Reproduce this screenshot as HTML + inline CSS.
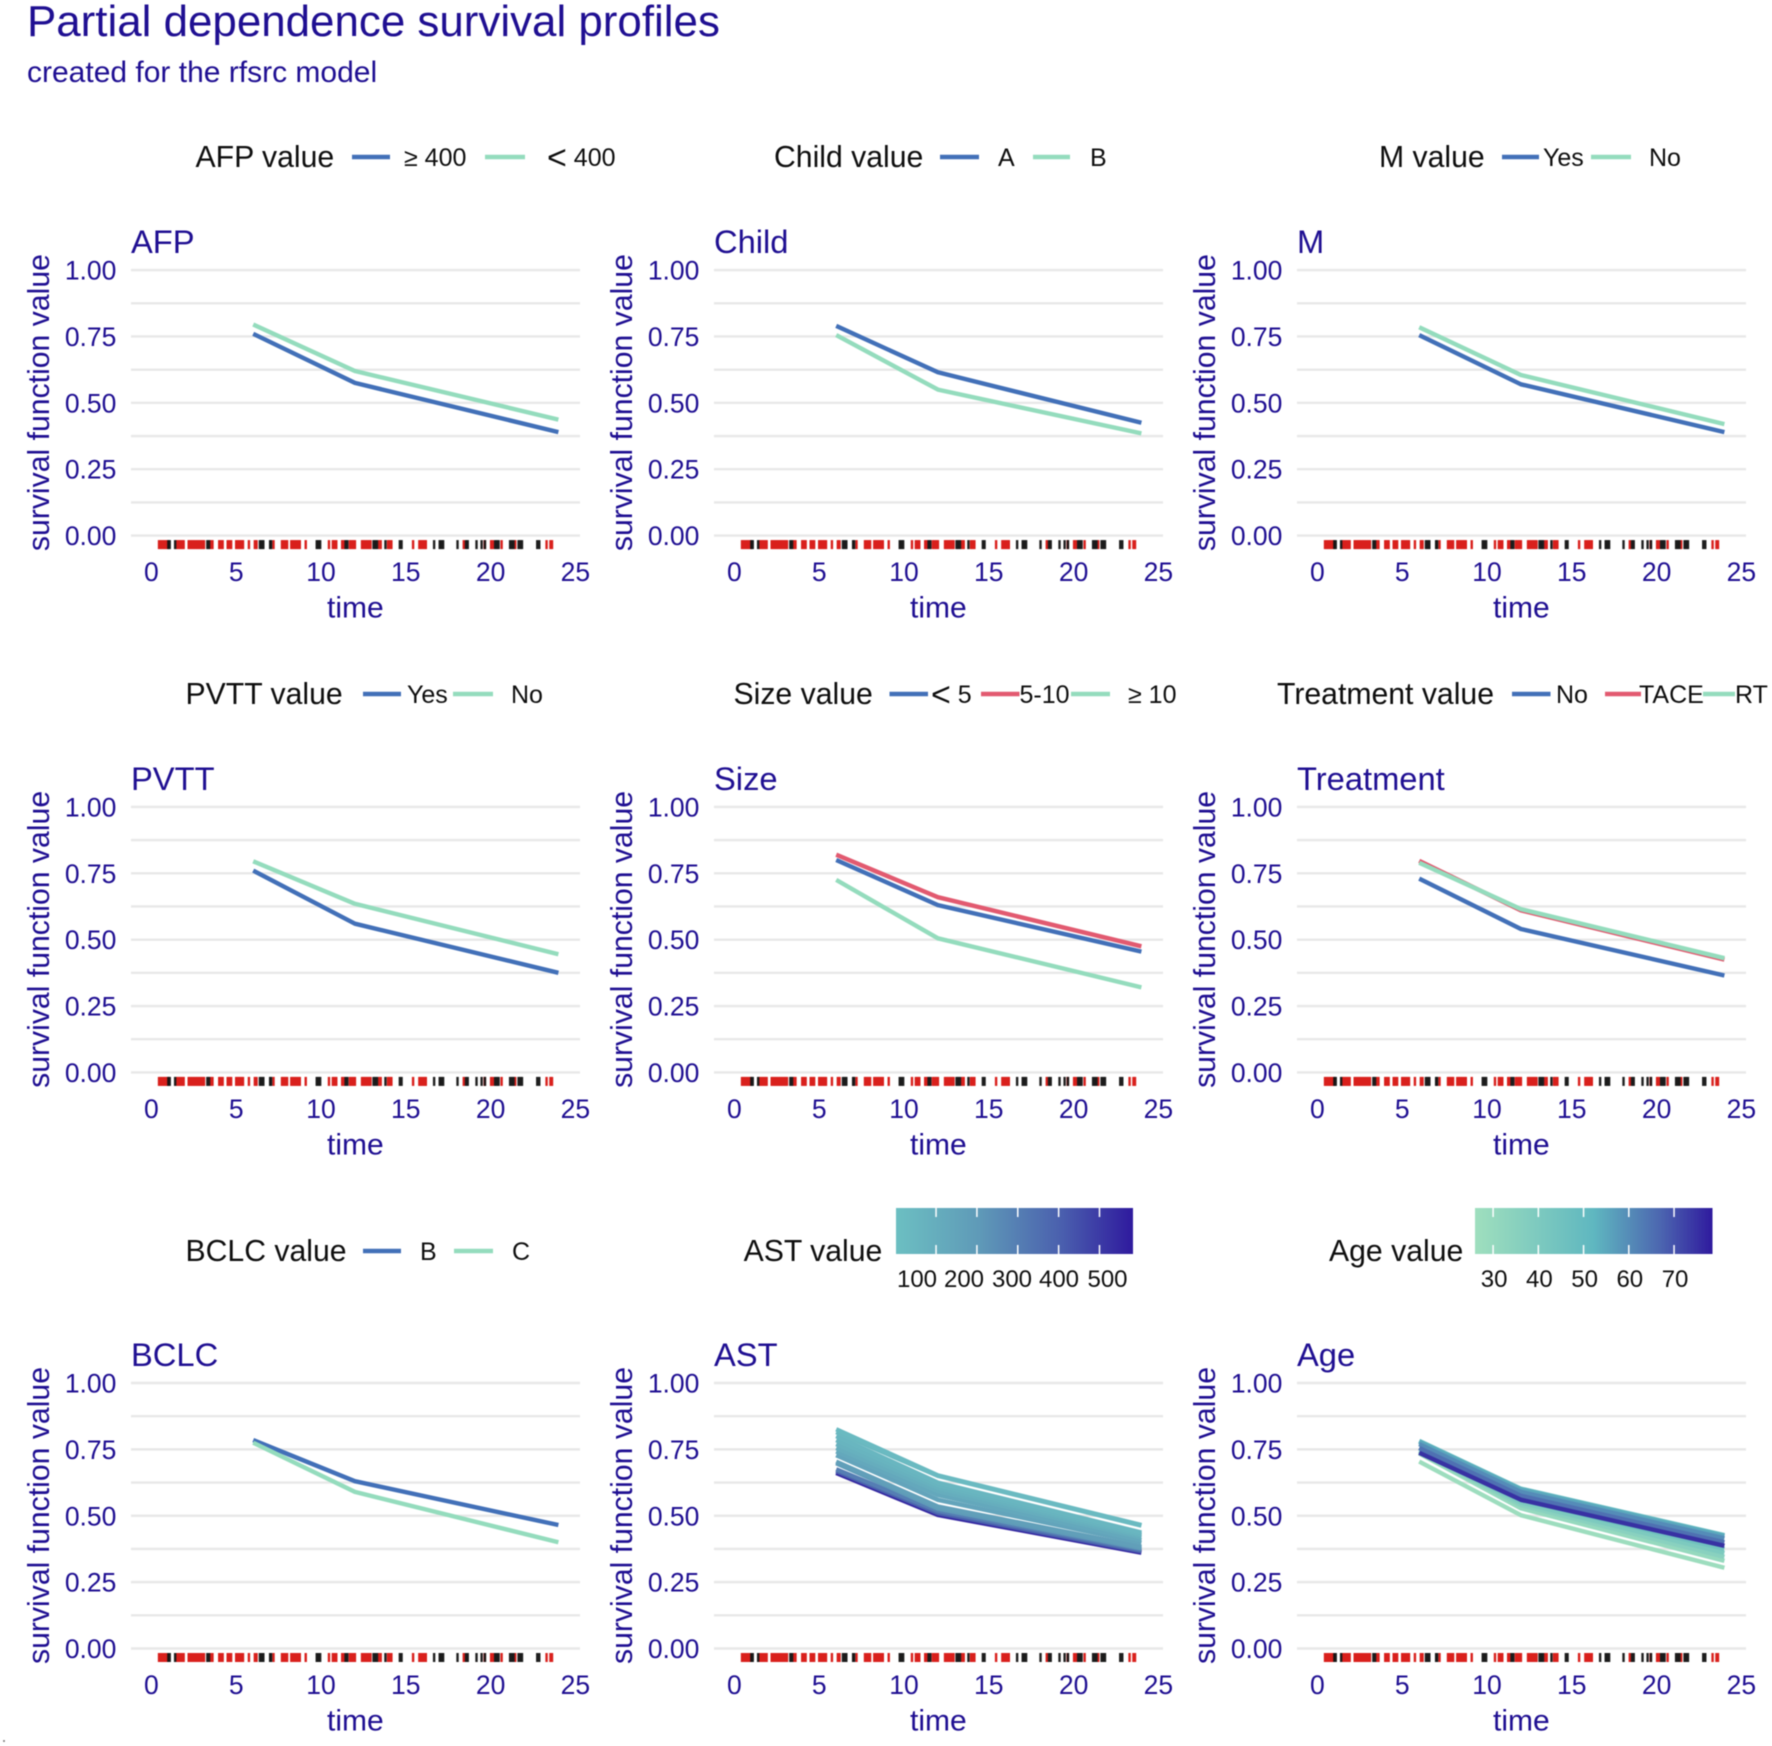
<!DOCTYPE html>
<html lang="en">
<head>
<meta charset="utf-8">
<title>Partial dependence survival profiles</title>
<style>
html,body{margin:0;padding:0;background:#fff;}
svg{display:block;font-family:"Liberation Sans",Arial,sans-serif;filter:blur(0.45px);}
</style>
</head>
<body>
<svg id="chart" xmlns="http://www.w3.org/2000/svg" width="1772" height="1746" viewBox="0 0 1772 1746">
<rect x="0" y="0" width="1772" height="1746" fill="#ffffff"/>
<text x="27" y="36" font-size="43.9" fill="#1f0f92">Partial dependence survival profiles</text>
<text x="27" y="82" font-size="30" fill="#1f0f92">created for the rfsrc model</text>
<circle cx="4" cy="1741" r="1" fill="#777777"/>
<defs id="defs"></defs>
</svg>
<script>
// ---- shared axis data ----
const timePoints = [6, 12, 24];
const xTickValues = [0, 5, 10, 15, 20, 25];
const yGridValues = [0, 0.125, 0.25, 0.375, 0.5, 0.625, 0.75, 0.875, 1];
const yTickValues = [0, 0.25, 0.5, 0.75, 1];
const yTickLabels = ['0.00', '0.25', '0.50', '0.75', '1.00'];

// ---- rug data (months) ----
const rugRedTimes = [0.45,0.55,0.65,0.75,0.85,0.95,1.5,1.6,1.7,1.8,1.9,2.2,2.3,2.4,2.5,2.6,2.7,2.8,2.9,3.0,3.1,3.5,3.6,4.0,4.1,4.2,4.5,4.6,4.7,5.0,5.1,5.2,5.3,5.4,5.75,6.1,6.2,7.2,7.7,7.8,7.9,8.0,8.25,8.35,8.45,8.55,8.65,8.75,9.1,10.47,10.7,10.8,10.9,11.25,11.35,11.7,11.8,11.9,12.0,12.42,12.52,12.62,12.72,12.82,12.92,13.42,13.52,13.95,14.05,14.15,15.43,15.8,15.9,16.0,16.1,16.18,18.42,19.65,20.03,20.13,20.65,21.45];
const rugBlackTimes = [1.0,1.08,1.4,3.3,3.4,6.4,6.5,6.6,7.0,7.06,9.75,9.85,9.95,11.45,11.55,13.1,13.2,13.3,13.8,14.65,14.75,16.67,17.0,17.1,17.2,18.05,18.55,18.65,19.17,19.47,19.67,20.27,20.37,20.47,21.15,21.25,21.35,21.65,21.75,21.85,22.75,22.87];
const rugRedExtra = [23.3, 23.53, 23.62];

// ---- categorical panels ----
const afpLevels = ['≥ 400', '< 400'];
const afpHigh = [0.76, 0.575, 0.39];
const afpLow = [0.795, 0.62, 0.437];

const childLevels = ['A', 'B'];
const childA = [0.79, 0.615, 0.425];
const childB = [0.755, 0.55, 0.385];

const mLevels = ['Yes', 'No'];
const mYes = [0.755, 0.57, 0.39];
const mNo = [0.785, 0.605, 0.42];

const pvttLevels = ['Yes', 'No'];
const pvttYes = [0.76, 0.56, 0.375];
const pvttNo = [0.795, 0.635, 0.445];

const sizeLevels = ['< 5', '5-10', '≥ 10'];
const sizeSmall = [0.80, 0.63, 0.455];
const sizeMid = [0.82, 0.66, 0.475];
const sizeLarge = [0.725, 0.505, 0.32];

const treatmentLevels = ['No', 'TACE', 'RT'];
const treatmentNo = [0.73, 0.54, 0.365];
const treatmentTace = [0.797, 0.61, 0.425];
const treatmentRt = [0.79, 0.615, 0.43];

const bclcLevels = ['B', 'C'];
const bclcB = [0.785, 0.63, 0.465];
const bclcC = [0.775, 0.59, 0.40];

// ---- continuous panels ----
const astValues = [30, 40, 50, 60, 80, 100, 130, 150, 180, 200, 300, 400, 550];
const astAt6 = [0.826, 0.815, 0.80, 0.785, 0.77, 0.755, 0.742, 0.728, 0.704, 0.698, 0.675, 0.668, 0.661];
const astAt12 = [0.652, 0.650, 0.625, 0.615, 0.605, 0.593, 0.578, 0.560, 0.535, 0.527, 0.518, 0.510, 0.503];
const astAt24 = [0.465, 0.463, 0.437, 0.430, 0.425, 0.418, 0.408, 0.398, 0.383, 0.377, 0.372, 0.366, 0.361];
const astTickValues = [100, 200, 300, 400, 500];
const astTickLabels = ['100', '200', '300', '400', '500'];

const ageValues = [27, 30, 35, 40, 45, 50, 55, 60, 65, 75];
const ageAt6 = [0.704, 0.735, 0.74, 0.745, 0.755, 0.782, 0.778, 0.77, 0.755, 0.737];
const ageAt12 = [0.502, 0.528, 0.54, 0.55, 0.56, 0.602, 0.598, 0.59, 0.575, 0.56];
const ageAt24 = [0.304, 0.33, 0.345, 0.36, 0.375, 0.427, 0.423, 0.415, 0.40, 0.387];
const ageTickValues = [30, 40, 50, 60, 70];
const ageTickLabels = ['30', '40', '50', '60', '70'];

// ---- layout and style (not data) ----
const BLUE = '#4270b8', MINT = '#94dcbd', RED = '#e25a70', INK = '#1f0f92', BLACK = '#0e0e0e', GRID = '#e8e8e8';
const LINE_WIDTH = 4.4;
const colX0 = [151.4, 734.4, 1317.4];
const rowY0 = [535.6, 1072.4, 1648.5];
const X_UNIT = 16.96, Y_UNIT = 265.5;
const astStops = [[0, '#6cbfc2'], [0.35, '#5f9ab8'], [0.7, '#4a5fae'], [1, '#2f1a9e']];
const ageStops = [[0, '#9fdfbe'], [0.5, '#5fb7c0'], [0.78, '#4c66b0'], [1, '#2f1a9e']];
const astDomain = [2, 582], ageDomain = [26, 78.5];

const svg = document.getElementById('chart');
const defs = document.getElementById('defs');
const SVG_NS = 'http://www.w3.org/2000/svg';

function xScale(t, col) { return colX0[col] + t * X_UNIT; }
function yScale(v, row) { return rowY0[row] - v * Y_UNIT; }

function make(parent, tag, attrs) {
  const el = document.createElementNS(SVG_NS, tag);
  Object.keys(attrs).forEach(function (k) { el.setAttribute(k, attrs[k]); });
  parent.appendChild(el);
  return el;
}
function addText(parent, str, x, y, size, fill, anchor, name) {
  const el = make(parent, 'text', { x: x, y: y, 'font-size': size, fill: fill, 'text-anchor': anchor });
  el.textContent = str;
  
  
  return el;
}
function hexToRgb(h) { return [parseInt(h.slice(1, 3), 16), parseInt(h.slice(3, 5), 16), parseInt(h.slice(5, 7), 16)]; }
function colorAt(f, stops) {
  f = Math.max(0, Math.min(1, f));
  for (let i = 1; i < stops.length; i++) {
    if (f <= stops[i][0]) {
      const a = stops[i - 1], b = stops[i];
      const u = (f - a[0]) / (b[0] - a[0]);
      const ca = hexToRgb(a[1]), cb = hexToRgb(b[1]);
      return 'rgb(' + ca.map(function (c, j) { return Math.round(c + (cb[j] - c) * u); }).join(',') + ')';
    }
  }
  return stops[stops.length - 1][1];
}

function drawAxes(g, col, row, title) {
  const left = colX0[col] - 20.4, right = colX0[col] + 428.6;
  yGridValues.forEach(function (v) {
    const line = make(g, 'line', { x1: left, x2: right, y1: yScale(v, row), y2: yScale(v, row), stroke: GRID, 'stroke-width': 2.4 });
    
    
  });
  yTickValues.forEach(function (v, i) {
    addText(g, yTickLabels[i], colX0[col] - 35, yScale(v, row) + 9.5, 26.5, INK, 'end', 'y-tick-label');
  });
  xTickValues.forEach(function (t) {
    addText(g, String(t), xScale(t, col), rowY0[row] + 45.5, 26.5, INK, 'middle', 'x-tick-label');
  });
  addText(g, 'time', colX0[col] + 204, rowY0[row] + 82, 30, INK, 'middle', 'x-axis-title');
  const cy = rowY0[row] - 133, cx = colX0[col] - 102.5;
  const yt = addText(g, 'survival function value', cx, cy, 30.2, INK, 'middle', 'y-axis-title');
  yt.setAttribute('transform', 'rotate(-90 ' + cx + ' ' + cy + ')');
  addText(g, title, left, rowY0[row] - 265.5 - 17, 32.7, INK, 'start', 'facet-title');
}

function drawRug(g, col, row) {
  const top = rowY0[row] + 4.5;
  rugRedTimes.concat(rugRedExtra).forEach(function (t) {
    const m = make(g, 'rect', { x: xScale(t, col) - 1.2, y: top, width: 2.4, height: 9, fill: '#d9201c' });
    
    
  });
  rugBlackTimes.forEach(function (t) {
    const m = make(g, 'rect', { x: xScale(t, col) - 1.2, y: top, width: 2.4, height: 9, fill: '#141414', opacity: 0.95 });
    
    
  });
}

function drawCurve(g, col, row, values, color, width, name) {
  const pts = values.map(function (v, i) { return xScale(timePoints[i], col).toFixed(1) + ',' + yScale(v, row).toFixed(1); }).join(' ');
  const line = make(g, 'polyline', { points: pts, fill: 'none', stroke: color, 'stroke-width': width, 'stroke-linejoin': 'round' });
  
  
}

function legendLabel(g, str, x, y) {
  const el = addText(g, '', x, y, 25, BLACK, 'start', 'legend-label');
  if (str.charAt(0) === '<') {
    const big = make(el, 'tspan', { 'font-size': 34, dy: 3 });
    big.textContent = '<';
    const rest = make(el, 'tspan', { dy: -3 });
    rest.textContent = str.slice(1);
  } else {
    el.textContent = str;
  }
  return el;
}
function legendKey(g, x1, x2, y, color) {
  const key = make(g, 'line', { x1: x1, x2: x2, y1: y, y2: y, stroke: color, 'stroke-width': LINE_WIDTH });
  
  
}
function drawDiscreteLegend(g, y, titleText, titleX, keys, labels, labelXs, colors) {
  addText(g, titleText, titleX, y + 10, 30.2, BLACK, 'start', 'legend-title');
  labels.forEach(function (lab, i) {
    legendKey(g, keys[i][0], keys[i][1], y, colors[i]);
    legendLabel(g, lab, labelXs[i], y + 9);
  });
}
function drawColorbar(g, id, titleText, titleX, x0, x1, stops, domain, tickValues, tickLabels, labelXs) {
  const top = 1208, bottom = 1254;
  addText(g, titleText, titleX, 1261, 30.2, BLACK, 'start', 'legend-title');
  const grad = make(defs, 'linearGradient', { id: id, x1: 0, x2: 1, y1: 0, y2: 0 });
  stops.forEach(function (s) { make(grad, 'stop', { offset: s[0], 'stop-color': s[1] }); });
  const bar = make(g, 'rect', { x: x0, y: top, width: x1 - x0, height: bottom - top, fill: 'url(#' + id + ')' });
  
  
  tickValues.forEach(function (v, i) {
    const tx = x0 + (v - domain[0]) / (domain[1] - domain[0]) * (x1 - x0);
    [[top, top + 9], [bottom - 9, bottom]].forEach(function (seg) {
      const tick = make(g, 'line', { x1: tx, x2: tx, y1: seg[0], y2: seg[1], stroke: '#ffffff', 'stroke-width': 1.5 });
      
      
    });
    addText(g, tickLabels[i], labelXs ? labelXs[i] : tx + 1, 1287, 24, BLACK, 'middle', 'colorbar-label');
  });
}

function panel(name, col, row, title) {
  const g = make(svg, 'g', {});
  
  
  drawAxes(g, col, row, title);
  return g;
}

// ---- row 1 ----
let g = panel('panel-afp', 0, 0, 'AFP');
drawDiscreteLegend(g, 157, 'AFP value', 195.5, [[352, 390], [485, 525]], afpLevels, [404, 547], [BLUE, MINT]);
drawRug(g, 0, 0);
drawCurve(g, 0, 0, afpHigh, BLUE, LINE_WIDTH, 'line-afp-high');
drawCurve(g, 0, 0, afpLow, MINT, LINE_WIDTH, 'line-afp-low');

g = panel('panel-child', 1, 0, 'Child');
drawDiscreteLegend(g, 157, 'Child value', 774, [[940, 979], [1033, 1070]], childLevels, [998, 1090], [BLUE, MINT]);
drawRug(g, 1, 0);
drawCurve(g, 1, 0, childA, BLUE, LINE_WIDTH, 'line-child-a');
drawCurve(g, 1, 0, childB, MINT, LINE_WIDTH, 'line-child-b');

g = panel('panel-m', 2, 0, 'M');
drawDiscreteLegend(g, 157, 'M value', 1379, [[1502, 1539], [1591, 1631]], mLevels, [1543, 1649], [BLUE, MINT]);
drawRug(g, 2, 0);
drawCurve(g, 2, 0, mYes, BLUE, LINE_WIDTH, 'line-m-yes');
drawCurve(g, 2, 0, mNo, MINT, LINE_WIDTH, 'line-m-no');

// ---- row 2 ----
g = panel('panel-pvtt', 0, 1, 'PVTT');
drawDiscreteLegend(g, 694, 'PVTT value', 185.5, [[363, 401], [453, 493]], pvttLevels, [407, 511], [BLUE, MINT]);
drawRug(g, 0, 1);
drawCurve(g, 0, 1, pvttYes, BLUE, LINE_WIDTH, 'line-pvtt-yes');
drawCurve(g, 0, 1, pvttNo, MINT, LINE_WIDTH, 'line-pvtt-no');

g = panel('panel-size', 1, 1, 'Size');
drawDiscreteLegend(g, 694, 'Size value', 733.5, [[889.5, 928], [981, 1019.5], [1071, 1110]], sizeLevels, [931, 1019.5, 1128], [BLUE, RED, MINT]);
drawRug(g, 1, 1);
drawCurve(g, 1, 1, sizeSmall, BLUE, LINE_WIDTH, 'line-size-small');
drawCurve(g, 1, 1, sizeMid, RED, LINE_WIDTH, 'line-size-mid');
drawCurve(g, 1, 1, sizeLarge, MINT, LINE_WIDTH, 'line-size-large');

g = panel('panel-treatment', 2, 1, 'Treatment');
drawDiscreteLegend(g, 694, 'Treatment value', 1277, [[1512, 1550.5], [1605, 1641], [1703, 1735]], treatmentLevels, [1556, 1639, 1735], [BLUE, RED, MINT]);
drawRug(g, 2, 1);
drawCurve(g, 2, 1, treatmentNo, BLUE, LINE_WIDTH, 'line-treatment-no');
drawCurve(g, 2, 1, treatmentTace, RED, LINE_WIDTH, 'line-treatment-tace');
drawCurve(g, 2, 1, treatmentRt, MINT, LINE_WIDTH, 'line-treatment-rt');

// ---- row 3 ----
g = panel('panel-bclc', 0, 2, 'BCLC');
drawDiscreteLegend(g, 1251, 'BCLC value', 185.5, [[363, 401], [454, 493]], bclcLevels, [420, 512], [BLUE, MINT]);
drawRug(g, 0, 2);
drawCurve(g, 0, 2, bclcB, BLUE, LINE_WIDTH, 'line-bclc-b');
drawCurve(g, 0, 2, bclcC, MINT, LINE_WIDTH, 'line-bclc-c');

g = panel('panel-ast', 1, 2, 'AST');
drawColorbar(g, 'ast-gradient', 'AST value', 743.6, 896, 1133, astStops, astDomain, astTickValues, astTickLabels, [917, 964, 1012, 1059, 1107.5]);
drawRug(g, 1, 2);
// high AST is drawn first so the teal band overlaps it, leaving a dark sliver at the bottom
astValues.map(function (v, i) { return i; }).reverse().forEach(function (i) {
  const f = (astValues[i] - astDomain[0]) / (astDomain[1] - astDomain[0]);
  drawCurve(g, 1, 2, [astAt6[i], astAt12[i], astAt24[i]], colorAt(f, astStops), LINE_WIDTH, 'line-ast');
});

g = panel('panel-age', 2, 2, 'Age');
drawColorbar(g, 'age-gradient', 'Age value', 1329, 1475, 1712.5, ageStops, ageDomain, ageTickValues, ageTickLabels, null);
drawRug(g, 2, 2);
ageValues.forEach(function (v, i) {
  const f = (v - ageDomain[0]) / (ageDomain[1] - ageDomain[0]);
  drawCurve(g, 2, 2, [ageAt6[i], ageAt12[i], ageAt24[i]], colorAt(f, ageStops), LINE_WIDTH, 'line-age');
});
</script>
</body>
</html>
